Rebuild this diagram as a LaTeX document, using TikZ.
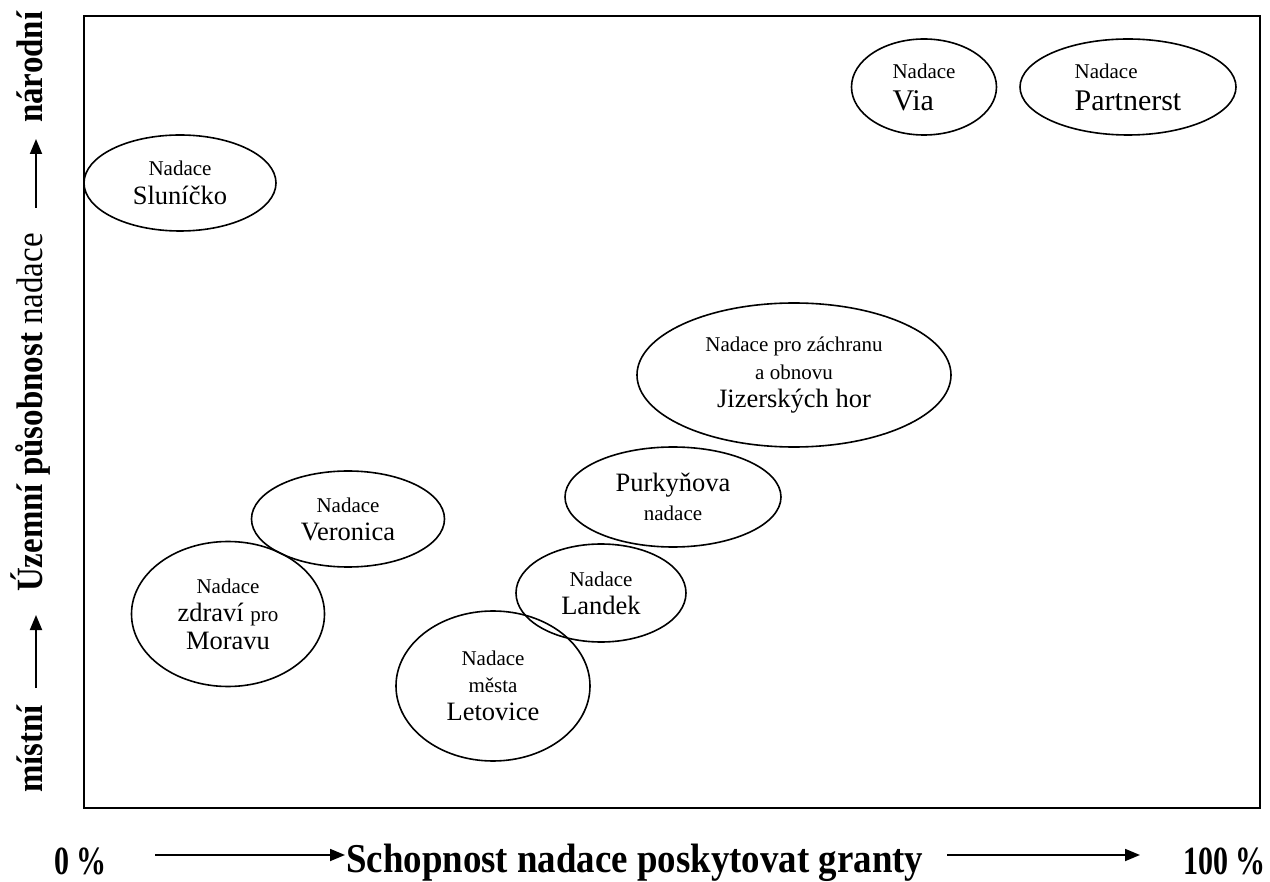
\documentclass[tikz,border=0pt]{standalone}
\usepackage{fontspec}
\setmainfont{Liberation Serif}
\newfontfamily\sidefont[FakeStretch=0.89]{Liberation Serif}
\newfontfamily\titlefont[FakeStretch=0.9]{Liberation Serif}
\newfontfamily\pctfont[FakeStretch=0.75]{Liberation Serif}
\usetikzlibrary{shapes.geometric,arrows.meta}
\newcommand\smf{\fontsize{21}{25}\selectfont}
\newcommand\lgf{\fontsize{26.5}{28}\selectfont}
\newcommand\vlf{\fontsize{30}{30}\selectfont}
\begin{document}
\begin{tikzpicture}[x=1pt,y=-1pt,
  ell/.style={draw, ellipse, line width=1.6pt, inner sep=0pt, align=center, font=\lgf},
  axisarrow/.style={line width=1.8pt, -{Triangle[length=15pt,width=12pt]}},
  sidelabel/.style={font=\sidefont\bfseries\fontsize{37}{37}\selectfont, rotate=90, anchor=base west, inner sep=0pt},
  botlabel/.style={font=\pctfont\bfseries\fontsize{40}{40}\selectfont, inner sep=0pt}]
\useasboundingbox (0,0) rectangle (1270,882);
\node[draw, line width=1.8pt, minimum width=1176pt, minimum height=792pt, inner sep=0pt, anchor=north west] (frame) at (83,15) {};
% ellipses
\node[ell, minimum width=192pt, minimum height=96pt] (slunicko) at (180,183) {{\smf Nadace}\\[1pt]Sluníčko};
\node[ell, align=left, font=\vlf, minimum width=145pt, minimum height=96pt] (via) at (924,87) {{\smf Nadace}\\[2pt]Via};
\node[ell, align=left, font=\vlf, minimum width=216pt, minimum height=96pt] (partnerst) at (1128,87) {{\smf Nadace}\\[2pt]Partnerst};
\node[ell, minimum width=314pt, minimum height=144pt] (jizera) at (794,375) {{\smf Nadace pro záchranu}\\{\smf a obnovu}\\Jizerských hor};
\node[ell, minimum width=216pt, minimum height=100pt] (purkyne) at (673,497) {Purkyňova\\[1pt]{\smf nadace}};
\node[ell, minimum width=170pt, minimum height=98pt] (landek) at (601,593) {{\smf Nadace}\\Landek};
\node[ell, minimum width=194pt, minimum height=150pt] (letovice) at (493,686) {{\smf Nadace}\\[-1pt]{\smf města}\\Letovice};
\node[ell, minimum width=193pt, minimum height=96pt] (veronica) at (348,519) {{\smf Nadace}\\Veronica};
\node[ell, minimum width=193pt, minimum height=145pt] (morava) at (228,614) {{\smf Nadace}\\zdraví {\smf pro}\\Moravu};
% bottom axis
\node[botlabel, anchor=base west] (zero) at (54,874) {0 \%};
\node[botlabel, anchor=base west, font=\titlefont\bfseries\fontsize{41}{41}\selectfont] (xtitle) at (346,872) {Schopnost nadace poskytovat granty};
\node[botlabel, anchor=base east] (hundred) at (1266,874) {100 \%};
\coordinate (xa1s) at (155,855);
\coordinate (xa1e) at (345,855);
\coordinate (xa2s) at (947,855);
\coordinate (xa2e) at (1140,855);
\draw[axisarrow] (xa1s) -- (xa1e);
\draw[axisarrow] (xa2s) -- (xa2e);
% left axis
\node[sidelabel] (mistni) at (42,793) {místní};
\node[sidelabel] (ytitle) at (42,592) {Územní působnost \mdseries nadace};
\node[sidelabel] (narodni) at (42,123) {národní};
\coordinate (ya1s) at (36,688);
\coordinate (ya1e) at (36,615);
\coordinate (ya2s) at (36,208);
\coordinate (ya2e) at (36,139);
\draw[axisarrow] (ya1s) -- (ya1e);
\draw[axisarrow] (ya2s) -- (ya2e);
\end{tikzpicture}
\end{document}
